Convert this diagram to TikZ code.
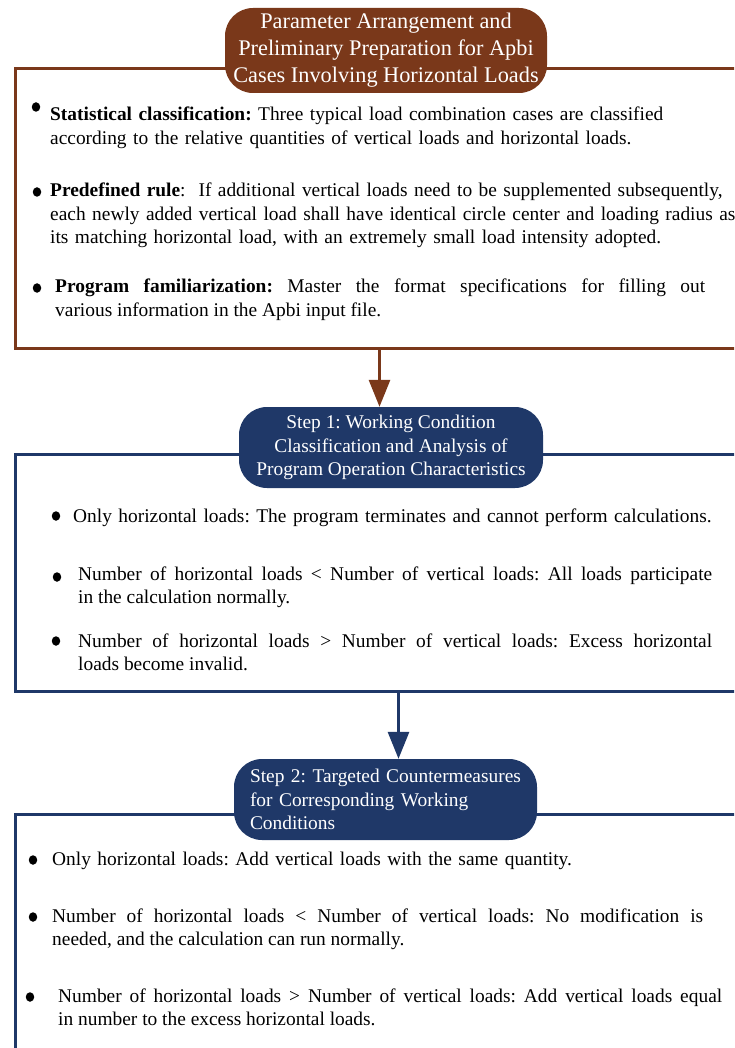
\documentclass[tikz,border=0pt]{standalone}
\usepackage{fontspec}
\setmainfont{Liberation Serif}
\usetikzlibrary{arrows.meta,shapes.geometric}
\definecolor{brn}{RGB}{122,56,26}
\definecolor{nvy}{RGB}{31,56,104}
\frenchspacing
\begin{document}
\begin{tikzpicture}[x=1pt,y=-1pt,
  framebox/.style={line width=3pt, inner sep=0pt, anchor=north west, fill=none},
  pill/.style={rounded corners=28pt, inner sep=0pt, text=white, align=center},
  bodytext/.style={anchor=base west, inner sep=0pt, font=\fontsize{19.4}{23.5}\selectfont},
  dot/.style={ellipse, fill=black, inner sep=0pt, minimum width=8.5pt, minimum height=9.5pt},
  arr/.style={line width=3pt, -{Triangle[length=27pt,width=21pt]}}]
\clip (0,0) rectangle (734,1048);
% frames
\node[framebox, draw=brn, minimum width=728pt, minimum height=280pt] (b1) at (14,67) {};
\node[framebox, draw=nvy, minimum width=766pt, minimum height=237pt] (b2) at (14,453) {};
\node[framebox, draw=nvy, minimum width=746pt, minimum height=260pt] (b3) at (14,813) {};
% title pills
\node[pill, fill=brn, minimum width=322pt, minimum height=85pt,
      font=\fontsize{22.3}{27}\selectfont] (t1) at (386,50.5)
  {Parameter Arrangement and\\Preliminary Preparation for Apbi\\Cases Involving Horizontal Loads};
\node[pill, fill=nvy, minimum width=304pt, minimum height=81pt,
      font=\fontsize{19.4}{23.5}\selectfont] (s1) at (391,447.5)
  {Step 1: Working Condition\\Classification and Analysis of\\Program Operation Characteristics};
\node[pill, fill=nvy, minimum width=303pt, minimum height=81pt, inner xsep=16pt,
      text width=271pt, align=left,
      font=\fontsize{19.4}{23.5}\selectfont] (s2) at (385.5,799.5)
  {Step 2: Targeted Countermeasures\\for Corresponding Working\\Conditions};
% arrows
\draw[arr, brn] (b1.south) -- (b1.south |- s1.north);
\draw[arr, nvy] (b2.south) -- (b2.south |- s2.north);
% box 1 bullets
\node[dot] (d11) at (36,107) {};
\node[bodytext, text width=700pt, align=left] (p11) at (50,121)
  {\textbf{Statistical classification:} Three typical load combination cases are classified\\according to the relative quantities of vertical loads and horizontal loads.};
\node[dot] (d12) at (37,192) {};
\node[bodytext, text width=720pt, align=left] (p12) at (50,197)
  {\textbf{Predefined rule}:\ \ If additional vertical loads need to be supplemented subsequently,\\each newly added vertical load shall have identical circle center and loading radius as\\its matching horizontal load, with an extremely small load intensity adopted.};
\node[dot] (d13) at (37,288) {};
\node[bodytext, text width=650pt, align=justify] (p13) at (55,293)
  {\textbf{Program familiarization:} Master the format specifications for filling out\linebreak various information in the Apbi input file.};
% box 2 bullets
\node[dot] (d21) at (56,516) {};
\node[bodytext, text width=660pt, align=left] (p21) at (73,522)
  {Only horizontal loads: The program terminates and cannot perform calculations.};
\node[dot] (d22) at (57,577) {};
\node[bodytext, text width=634pt, align=justify] (p22) at (78,580)
  {Number of horizontal loads < Number of vertical loads: All loads participate\linebreak in the calculation normally.};
\node[dot] (d23) at (56,641) {};
\node[bodytext, text width=634pt, align=justify] (p23) at (78,647)
  {Number of horizontal loads > Number of vertical loads: Excess horizontal\linebreak loads become invalid.};
% box 3 bullets
\node[dot] (d31) at (33,860) {};
\node[bodytext, text width=660pt, align=left] (p31) at (52,865)
  {Only horizontal loads: Add vertical loads with the same quantity.};
\node[dot] (d32) at (33,917) {};
\node[bodytext, text width=651pt, align=justify] (p32) at (52,922)
  {Number of horizontal loads < Number of vertical loads: No modification is\linebreak needed, and the calculation can run normally.};
\node[dot] (d33) at (30,997) {};
\node[bodytext, text width=664pt, align=justify] (p33) at (58,1002)
  {Number of horizontal loads > Number of vertical loads: Add vertical loads equal\linebreak in number to the excess horizontal loads.};
\end{tikzpicture}
\end{document}
